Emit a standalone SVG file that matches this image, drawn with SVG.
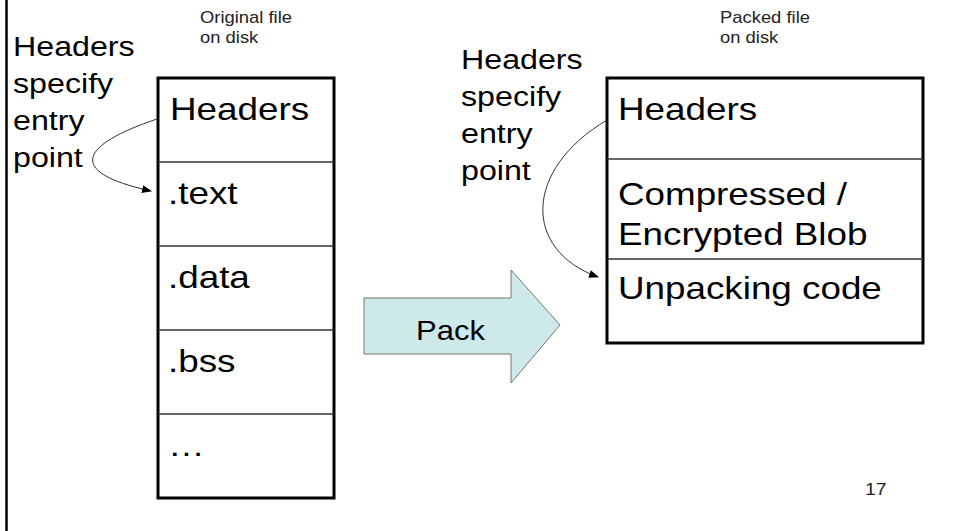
<svg xmlns="http://www.w3.org/2000/svg" width="959" height="531" viewBox="0 0 959 531">
<defs>
<style>
text{font-family:"Liberation Sans",Arial,sans-serif;fill:#000}
.big{font-size:32px}
.lbl{font-size:28px}
.small{font-size:16px;fill:#222}
.box{fill:#fff;stroke:#000;stroke-width:3}
.div{stroke:#333;stroke-width:1.5}
.conn{fill:none;stroke:#333;stroke-width:1}
</style>
<marker id="ah" markerWidth="10" markerHeight="8" refX="9" refY="4" orient="auto" markerUnits="userSpaceOnUse">
<path d="M0,0 L10,4 L0,8 Z" fill="#000"/>
</marker>
</defs>
<rect width="959" height="531" fill="#fff"/>
<line x1="6.5" y1="0" x2="6.5" y2="531" stroke="#000" stroke-width="2.5"/>

<g id="left-label">
<text class="lbl" transform="matrix(1.15 0 0 1 13 56)">Headers</text>
<text class="lbl" transform="matrix(1.15 0 0 1 13 93)">specify</text>
<text class="lbl" transform="matrix(1.15 0 0 1 13 130)">entry</text>
<text class="lbl" transform="matrix(1.15 0 0 1 13 167)">point</text>
</g>

<g id="original-caption">
<text class="small" transform="matrix(1.15 0 0 1 200 23)">Original file</text>
<text class="small" transform="matrix(1.15 0 0 1 200 43)">on disk</text>
</g>

<g id="original-file">
<rect class="box" x="158" y="78" width="176" height="420"/>
<line class="div" x1="158" y1="162" x2="334" y2="162"/>
<line class="div" x1="158" y1="246" x2="334" y2="246"/>
<line class="div" x1="158" y1="330" x2="334" y2="330"/>
<line class="div" x1="158" y1="414" x2="334" y2="414"/>
<text class="big" transform="matrix(1.15 0 0 1 170 120)">Headers</text>
<text class="big" transform="matrix(1.15 0 0 1 168 204)">.text</text>
<text class="big" transform="matrix(1.15 0 0 1 168 288)">.data</text>
<text class="big" transform="matrix(1.15 0 0 1 168 372)">.bss</text>
<text class="big" transform="matrix(1.15 0 0 1 168 456)">…</text>
</g>

<g id="pack-arrow">
<polygon points="364,298 511,298 511,270 560,325 511,383 511,354 364,354" fill="#cde9e9" stroke="#777" stroke-width="1"/>
<text class="lbl" style="font-size:27px" transform="matrix(1.15 0 0 1 416 340)">Pack</text>
</g>

<g id="right-label">
<text class="lbl" transform="matrix(1.15 0 0 1 461 69)">Headers</text>
<text class="lbl" transform="matrix(1.15 0 0 1 461 106)">specify</text>
<text class="lbl" transform="matrix(1.15 0 0 1 461 143)">entry</text>
<text class="lbl" transform="matrix(1.15 0 0 1 461 180)">point</text>
</g>

<g id="packed-caption">
<text class="small" transform="matrix(1.15 0 0 1 720 23)">Packed file</text>
<text class="small" transform="matrix(1.15 0 0 1 720 43)">on disk</text>
</g>

<g id="packed-file">
<rect class="box" x="607" y="78" width="316" height="265"/>
<line class="div" x1="607" y1="159" x2="923" y2="159"/>
<line class="div" x1="607" y1="259" x2="923" y2="259"/>
<text class="big" transform="matrix(1.15 0 0 1 618 120)">Headers</text>
<text class="big" transform="matrix(1.15 0 0 1 618 205)">Compressed /</text>
<text class="big" transform="matrix(1.15 0 0 1 618 245)">Encrypted Blob</text>
<text class="big" transform="matrix(1.15 0 0 1 618 299)">Unpacking code</text>
</g>

<g id="page-number">
<text style="font-size:17px;fill:#222" transform="matrix(1.15 0 0 1 865 495)">17</text>
</g>

<g id="connectors">
<path class="conn" d="M157,119 C80,145 65,172 151,191" marker-end="url(#ah)"/>
<path class="conn" d="M607,120 C523,170 523,250 598,277" marker-end="url(#ah)"/>
</g>
</svg>
